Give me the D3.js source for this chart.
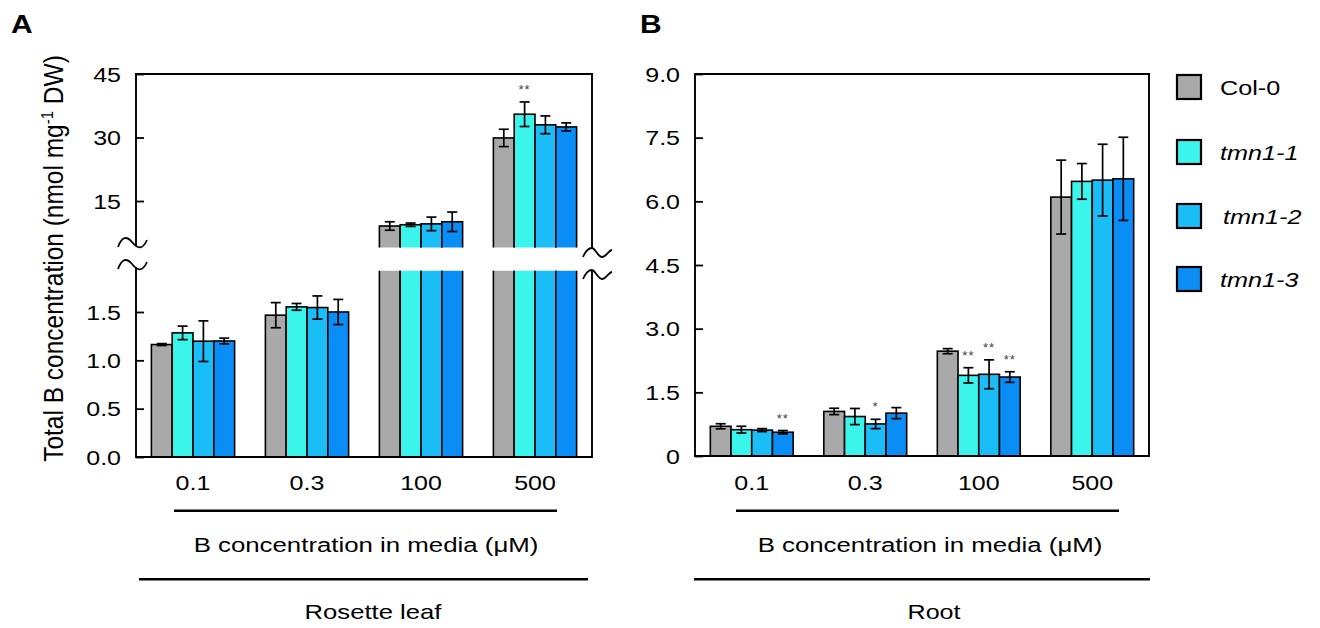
<!DOCTYPE html>
<html><head><meta charset="utf-8">
<script src="https://cdn.jsdelivr.net/npm/d3@7"></script>
<style>
html,body{margin:0;padding:0;background:#fff;}
svg text{font-family:Arial,"Liberation Sans",sans-serif;fill:#000;}
</style></head>
<body><svg id="c" width="1320" height="628"></svg>
<script>
// ---------- DATA ----------
const categories = ["0.1", "0.3", "100", "500"];
const series = ["Col-0", "tmn1-1", "tmn1-2", "tmn1-3"];
const seriesColors = ["#a9a9a9", "#3bf5ec", "#1bbdf6", "#0a8ef6"];

// Rosette leaf (nmol mg-1 DW)
const leafCol0  = [1.163, 1.467, 9.1, 29.9];
const leafTmn11 = [1.284, 1.553, 9.4, 35.5];
const leafTmn12 = [1.198, 1.546, 9.6, 33.0];
const leafTmn13 = [1.20, 1.50, 10.1, 32.5];
const leafErrCol0  = [0.01, 0.13, 1.0, 2.05];
const leafErrTmn11 = [0.07, 0.035, 0.4, 2.9];
const leafErrTmn12 = [0.21, 0.12, 1.6, 2.1];
const leafErrTmn13 = [0.03, 0.13, 2.3, 0.95];

// Root
const rootCol0  = [0.70, 1.05, 2.47, 6.10];
const rootTmn11 = [0.62, 0.93, 1.90, 6.47];
const rootTmn12 = [0.61, 0.755, 1.925, 6.50];
const rootTmn13 = [0.56, 1.01, 1.86, 6.53];
const rootErrCol0  = [0.06, 0.075, 0.06, 0.87];
const rootErrTmn11 = [0.08, 0.19, 0.18, 0.42];
const rootErrTmn12 = [0.035, 0.11, 0.34, 0.845];
const rootErrTmn13 = [0.04, 0.13, 0.125, 0.98];

// significance marks: [series, category, label]
const leafSig = [["tmn1-1", "500", "**"]];
const rootSig = [["tmn1-3", "0.1", "**"], ["tmn1-2", "0.3", "*"], ["tmn1-1", "100", "**"], ["tmn1-2", "100", "**"], ["tmn1-3", "100", "**"]];

// tick labels
const leafUpperTicks = [15, 30, 45];
const leafLowerTicks = [0, 0.5, 1.0, 1.5];
const rootTicks = [0, 1.5, 3.0, 4.5, 6.0, 7.5, 9.0];

const xAxisTitle = "B concentration in media (μM)";
const tissueLabels = ["Rosette leaf", "Root"];

// ---------- BUILD ----------
function rows(means, errs) {
  const out = [];
  categories.forEach((c, ci) => series.forEach((s, si) => {
    out.push({cat: c, ser: s, si, v: means[si][ci], e: errs[si][ci]});
  }));
  return out;
}
const leafData = rows([leafCol0, leafTmn11, leafTmn12, leafTmn13], [leafErrCol0, leafErrTmn11, leafErrTmn12, leafErrTmn13]);
const rootData = rows([rootCol0, rootTmn11, rootTmn12, rootTmn13], [rootErrCol0, rootErrTmn11, rootErrTmn12, rootErrTmn13]);

const SX = 1.22; // horizontal text stretch of the reference
const svg = d3.select("#c");
const color = d3.scaleOrdinal().domain(series).range(seriesColors);

// stretch text horizontally by scaling glyphs around its anchor point
function stretch(sel, k, targetW) {
  sel.each(function () {
    const t = d3.select(this);
    const x = +t.attr("x") || 0, y = +t.attr("y") || 0;
    const kk = targetW ? targetW / this.getComputedTextLength() : k;
    t.attr("x", 0).attr("y", 0).attr("transform", `translate(${x},${y}) scale(${kk},1)`);
  });
}
const defs = svg.append("defs");

function xScales(r0, r1) {
  const x = d3.scaleBand().domain(categories).range([r0, r1]).paddingInner(0.27).paddingOuter(0.135);
  const xi = d3.scaleBand().domain(series).range([0, x.bandwidth()]);
  return [x, xi];
}

function drawBars(g, data, x, xi, y, y0, clipId) {
  const gg = g.append("g").attr("clip-path", clipId ? `url(#${clipId})` : null);
  gg.selectAll("rect").data(data).join("rect")
    .attr("x", d => x(d.cat) + xi(d.ser))
    .attr("width", xi.bandwidth())
    .attr("y", d => Math.min(y(d.v), y0))
    .attr("height", d => Math.abs(y0 - y(d.v)))
    .attr("fill", d => color(d.ser))
    .attr("stroke", "#000").attr("stroke-width", 1.6);
}
function drawErr(g, data, x, xi, y) {
  const cap = 5;
  const eg = g.append("g").attr("stroke", "#000").attr("stroke-width", 1.7).attr("fill", "none");
  data.forEach(d => {
    const cx = x(d.cat) + xi(d.ser) + xi.bandwidth() / 2;
    const yt = y(d.v + d.e), yb = y(d.v - d.e);
    eg.append("line").attr("x1", cx).attr("x2", cx).attr("y1", yt).attr("y2", yb);
    eg.append("line").attr("x1", cx - cap).attr("x2", cx + cap).attr("y1", yt).attr("y2", yt);
    eg.append("line").attr("x1", cx - cap).attr("x2", cx + cap).attr("y1", yb).attr("y2", yb);
  });
}
function drawSig(g, sig, data, x, xi, y) {
  sig.forEach(([s, c, lab]) => {
    const d = data.find(r => r.ser === s && r.cat === c);
    const cx = x(c) + xi(s) + xi.bandwidth() / 2;
    g.append("text").attr("x", cx).attr("y", y(d.v + d.e) - 8)
      .attr("text-anchor", "middle").attr("font-size", 13).style("fill", "#444")
      .attr("letter-spacing", 1).text(lab);
  });
}
function yAxis(g, y, ticks, fmt, x0) {
  const ax = g.append("g").attr("transform", `translate(${x0},0)`)
    .call(d3.axisLeft(y).tickValues(ticks).tickFormat(fmt).tickSizeInner(-8).tickSizeOuter(0).tickPadding(15));
  ax.select(".domain").remove();
  ax.selectAll(".tick line").attr("stroke", "#000").attr("stroke-width", 1.8);
  ax.selectAll(".tick text").attr("font-size", 20.5).attr("dy", null).attr("dominant-baseline", null)
    .style("font-family", 'Arial,"Liberation Sans",sans-serif');
  ax.selectAll(".tick text").each(function () {
    const t = d3.select(this);
    const x = +t.attr("x");
    t.attr("x", 0).attr("y", 0).attr("dy", "0.35em").attr("transform", `translate(${x},0) scale(${SX},1)`);
  });
}
function xLabels(g, x, yy) {
  g.selectAll(null).data(categories).join("text")
    .attr("x", d => x(d) + x.bandwidth() / 2).attr("y", yy)
    .attr("text-anchor", "middle").attr("font-size", 20.5).text(d => d)
    .call(s => stretch(s, SX));
}
function hline(g, x1, x2, yy, w) {
  g.append("line").attr("x1", x1).attr("x2", x2).attr("y1", yy).attr("y2", yy)
    .attr("stroke", "#000").attr("stroke-width", w);
}
function vline(g, xx, y1, y2, w) {
  g.append("line").attr("x1", xx).attr("x2", xx).attr("y1", y1).attr("y2", y2)
    .attr("stroke", "#000").attr("stroke-width", w);
}
function bottomTitles(g, l1, l2, t1x, l3, l4, t2x, tissue, tissueW) {
  hline(g, l1, l2, 510.7, 2.4);
  g.append("text").attr("x", t1x).attr("y", 552).attr("text-anchor", "middle").attr("font-size", 20)
    .text(xAxisTitle).call(s => stretch(s, 0, 345));
  hline(g, l3, l4, 579.3, 2.4);
  g.append("text").attr("x", t2x).attr("y", 619).attr("text-anchor", "middle").attr("font-size", 20)
    .text(tissue).call(s => stretch(s, 0, tissueW));
}

// ---------- PANEL A ----------
(function () {
  const g = svg.append("g");
  const L = 136, R = 592, T = 74, B = 457;
  const [x, xi] = xScales(L, R);
  const yU = d3.scaleLinear().domain([4, 45]).range([247.6, T]);
  const yL = d3.scaleLinear().domain([0, 1.924]).range([B, 271]);

  defs.append("clipPath").attr("id", "clipAU").append("rect").attr("x", 0).attr("y", 0).attr("width", 1320).attr("height", 247.6);
  defs.append("clipPath").attr("id", "clipAL").append("rect").attr("x", 0).attr("y", 270.7).attr("width", 1320).attr("height", 400);

  const big = leafData.filter(d => d.v > 4);
  const small = leafData.filter(d => d.v <= 4);
  drawBars(g, big, x, xi, yU, 262, "clipAU");
  drawBars(g, big.map(d => Object.assign({}, d, {v: 2.3})), x, xi, yL, B, "clipAL");
  drawBars(g, small, x, xi, yL, B, null);
  drawErr(g, big, x, xi, yU);
  drawErr(g, small, x, xi, yL);
  drawSig(g, leafSig, leafData, x, xi, yU);

  hline(g, L - 1, R + 1, T, 1.9);
  hline(g, L - 1, R + 1, B, 1.9);
  vline(g, L, T - 1, 246, 1.9);
  vline(g, L, 267, B + 1, 1.9);
  vline(g, R, T - 1, 248, 1.9);
  vline(g, R, 270, B + 1, 1.9);
  const br = g.append("g").attr("fill", "none").attr("stroke", "#000").attr("stroke-width", 1.8);
  br.append("path").attr("d", `M${L-18},${247} C${L-14},${236} ${L-9},${236} ${L-4},${242} S${L+6},${251} ${L+11},${240}`);
  br.append("path").attr("d", `M${L-18},${269} C${L-14},${258} ${L-9},${258} ${L-4},${264} S${L+6},${273} ${L+11},${262}`);
  br.append("path").attr("d", `M${R-9},${257} C${R-6},${250} ${R-3},${248} ${R},${248} S${R+6},${257} ${R+10},${257} S${R+17},${250} ${R+20},${250}`);
  br.append("path").attr("d", `M${R-9},${279} C${R-6},${272} ${R-3},${270} ${R},${270} S${R+6},${279} ${R+10},${279} S${R+17},${272} ${R+20},${272}`);

  yAxis(g, yU, leafUpperTicks, d3.format("d"), L);
  yAxis(g, yL, leafLowerTicks, d3.format(".1f"), L);
  xLabels(g, x, 490);
  bottomTitles(g, 174, 557, 366, 139, 588, 373, tissueLabels[0], 137);

  // y label
  const yl = g.append("text").attr("transform", "translate(63,258.5) scale(1.12,1) rotate(-90)")
    .attr("text-anchor", "middle").attr("font-size", 24.5);
  yl.append("tspan").text("Total B concentration (nmol mg");
  yl.append("tspan").attr("font-size", 15).attr("dy", -9).text("-1");
  yl.append("tspan").attr("dy", 9).text(" DW)");

  g.append("text").attr("x", 11).attr("y", 33).attr("font-size", 25).attr("font-weight", "bold").text("A")
    .call(s => stretch(s, 1.2));
})();

// ---------- PANEL B ----------
(function () {
  const g = svg.append("g");
  const L = 695, R = 1149, T = 74, B = 456;
  const [x, xi] = xScales(L, R);
  const y = d3.scaleLinear().domain([0, 9]).range([B, T]);
  drawBars(g, rootData, x, xi, y, B, null);
  drawErr(g, rootData, x, xi, y);
  drawSig(g, rootSig, rootData, x, xi, y);
  hline(g, L - 1, R + 1, T, 1.9);
  hline(g, L - 1, R + 1, B, 1.9);
  vline(g, L, T - 1, B + 1, 1.9);
  vline(g, R, T - 1, B + 1, 1.9);
  yAxis(g, y, rootTicks, d => d === 0 ? "0" : d3.format(".1f")(d), L);
  xLabels(g, x, 490);
  bottomTitles(g, 736, 1119, 930, 694, 1150, 934, tissueLabels[1], 53);
  g.append("text").attr("x", 640).attr("y", 33).attr("font-size", 25).attr("font-weight", "bold").text("B")
    .call(s => stretch(s, 1.2));

  // legend
  const lg = g.append("g");
  const ly = [75, 140, 204, 267];
  series.forEach((s, i) => {
    lg.append("rect").attr("x", 1177).attr("y", ly[i]).attr("width", 24).attr("height", 24)
      .attr("fill", color(s)).attr("stroke", "#000").attr("stroke-width", 2.2);
    lg.append("text").attr("x", i === 2 ? 1223 : 1220).attr("y", ly[i] + 12).attr("dy", "0.36em")
      .attr("font-size", 21).attr("font-style", i === 0 ? "normal" : "italic").text(s)
      .call(t => stretch(t, 1.2));
  });
})();
</script></body></html>
